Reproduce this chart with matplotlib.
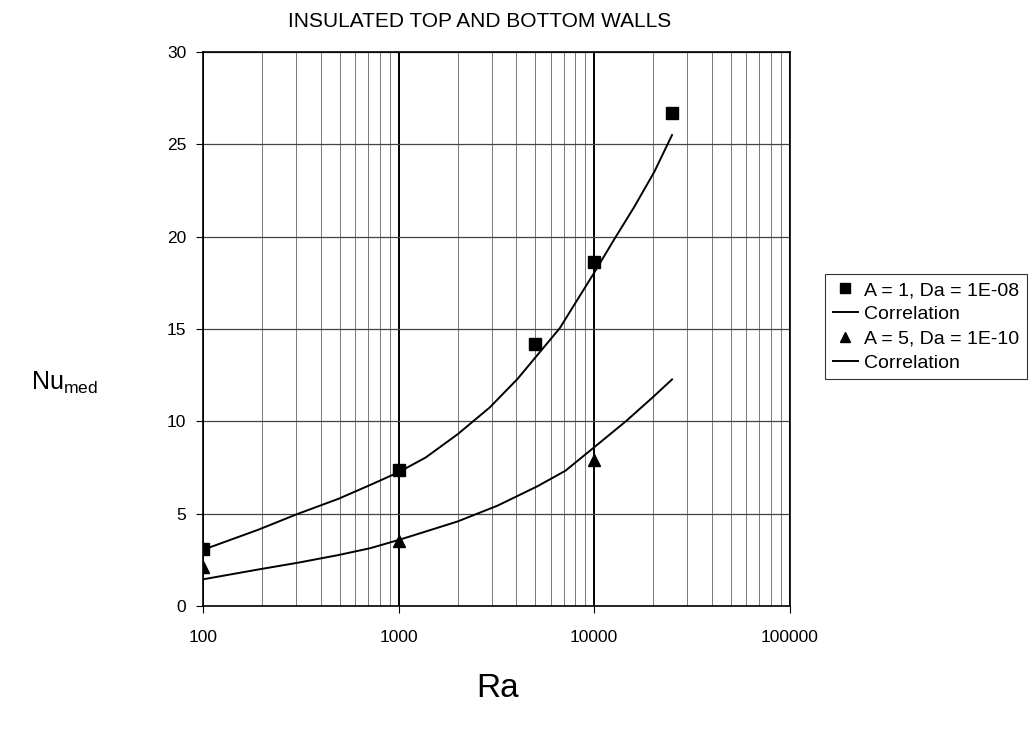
import matplotlib
matplotlib.use("Agg")
from matplotlib import pyplot as plt
from matplotlib.ticker import LogLocator, FixedLocator, NullFormatter
import numpy as np

plt.rcParams['font.family'] = ['Liberation Sans', 'DejaVu Sans']

# measured points
ra_a1 = [100, 1000, 5000, 10000, 25000]
nu_a1 = [3.07, 7.38, 14.2, 18.65, 26.7]
ra_a5 = [100, 1000, 10000]
nu_a5 = [2.1, 3.55, 7.9]

# correlation curves
ra_c1 = [100, 191, 306, 490, 713, 1000, 1377, 2000, 2920, 4055, 5130, 6670,
         10000, 12650, 16000, 20270, 25000]
nu_c1 = [3.05, 4.13, 5.0, 5.8, 6.55, 7.25, 8.05, 9.3, 10.75, 12.3, 13.6, 15.05,
         18.05, 19.85, 21.6, 23.5, 25.5]
ra_c5 = [100, 191, 306, 490, 713, 1000, 1377, 2000, 3207, 5130, 7130, 10000,
         14500, 20050, 25000]
nu_c5 = [1.45, 1.98, 2.35, 2.76, 3.13, 3.58, 4.04, 4.58, 5.44, 6.49, 7.33, 8.6,
         10.0, 11.33, 12.27]

fig = plt.figure(figsize=(10.31, 7.32), dpi=100)
ax = fig.add_axes([0.197, 0.172, 0.569, 0.757])

ax.plot(ra_a1, nu_a1, 's', color='black', markersize=8, label='A = 1, Da = 1E-08', zorder=4)
ax.plot(ra_c1, nu_c1, '-', color='black', linewidth=1.4, label='Correlation', zorder=3)
ax.plot(ra_a5, nu_a5, '^', color='black', markersize=8, label='A = 5, Da = 1E-10', zorder=4)
ax.plot(ra_c5, nu_c5, '-', color='black', linewidth=1.4, label='Correlation', zorder=3)

ax.set_xscale('log')
ax.set_xlim(100, 100000)
ax.set_ylim(0, 30)
ax.xaxis.set_major_locator(FixedLocator([100, 1000, 10000, 100000]))
ax.set_xticklabels(['100', '1000', '10000', '100000'])
ax.xaxis.set_minor_locator(LogLocator(base=10, subs=np.arange(2, 10), numticks=20))
ax.xaxis.set_minor_formatter(NullFormatter())
ax.set_yticks(range(0, 31, 5))

ax.grid(True, which='major', axis='x', color='black', linewidth=1.4)
ax.grid(True, which='minor', axis='x', color='#777777', linewidth=0.7)
ax.grid(True, which='major', axis='y', color='#444444', linewidth=0.9)
ax.set_axisbelow(True)
ax.tick_params(axis='both', which='major', labelsize=12.5, direction='out', length=5, pad=7)
ax.tick_params(axis='x', which='minor', length=0)
ax.tick_params(axis='x', which='major', pad=12)
for s in ax.spines.values():
    s.set_color('black')
    s.set_linewidth(1.2)

fig.text(0.465, 0.971, 'INSULATED TOP AND BOTTOM WALLS', ha='center', va='center', fontsize=15)
fig.text(0.483, 0.06, 'Ra', ha='center', va='center', fontsize=24)
fig.text(0.063, 0.477, r'Nu$_{\mathregular{med}}$', ha='center', va='center', fontsize=18)

leg = ax.legend(loc='upper left', bbox_to_anchor=(1.06, 0.6), fontsize=14,
                frameon=True, fancybox=False, edgecolor='black', handlelength=1.3,
                handletextpad=0.3, borderpad=0.4, labelspacing=0.34, markerscale=0.85,
                borderaxespad=0)
leg.get_frame().set_linewidth(0.8)

plt.savefig('out.png', dpi=100)
